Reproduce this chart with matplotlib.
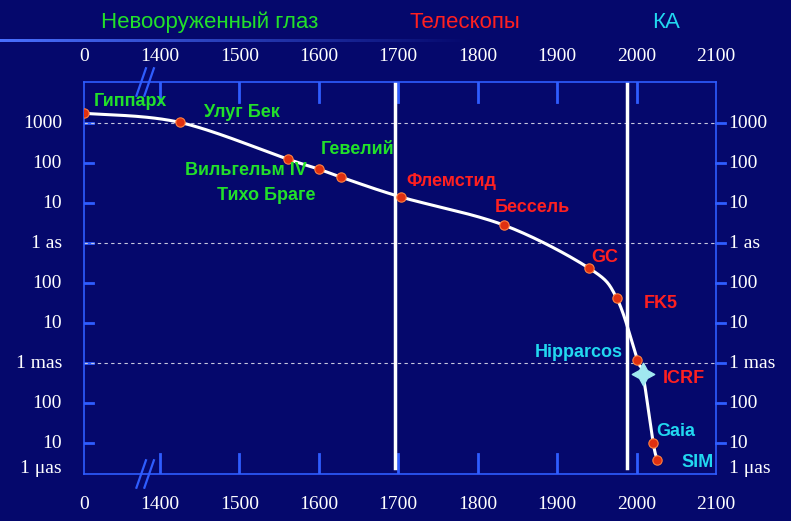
import numpy as np
import matplotlib
matplotlib.use("Agg")
import matplotlib.pyplot as plt
from matplotlib.colors import LinearSegmentedColormap

# data
names = ["Гиппарх", "Улуг Бек", "Вильгельм IV", "Тихо Браге", "Гевелий", "Флемстид",
         "Бессель", "GC", "FK5", "Hipparcos", "ICRF", "Gaia", "SIM"]
years = [0, 1425, 1561, 1600, 1628, 1704, 1833, 1940, 1975, 2001, 2008, 2021, 2026]
log_uas = [9.25, 9.02, 8.1, 7.85, 7.65, 7.15, 6.45, 5.375, 4.625, 3.08, 2.72, 1.0, 0.575]
xtick_years = [0, 1400, 1500, 1600, 1700, 1800, 1900, 2000, 2100]
ytick_vals = [9, 8, 7, 6, 5, 4, 3, 2, 1, 0.37]
ytick_labels = ["1000", "100", "10", "1 as", "100", "10", "1 mas", "100", "10", "1 μas"]
era_lines = [1696, 1988]

GAP = 76 / 79.5
def xpos(y):
    y = np.asarray(y, dtype=float)
    return np.where(y < 1400, y / 1400 * GAP, GAP + (y - 1400) / 100)

BG = "#05086c"
BLUE = "#2f5dff"
GREEN = "#22e02a"
RED = "#ff2020"
CYAN = "#22d8f0"
W = 791; H = 521
fig = plt.figure(figsize=(7.91, 5.21), dpi=100, facecolor=BG)
ax = fig.add_axes([84 / W, (H - 474) / H, (716 - 84) / W, (474 - 82) / H], facecolor=BG)
x0, x1 = float(xpos(0)), float(xpos(2100))
ax.set_xlim(x0, x1)
ax.set_ylim(0.225, 10.03)
for s in ax.spines.values():
    s.set_color(BLUE); s.set_linewidth(1.2)
ax.set_xticks([]); ax.set_yticks([])

tf = dict(color="white", fontsize=14, family="Liberation Serif")
tr_top = ax.get_xaxis_transform()
for yv in xtick_years[1:-1]:
    p = float(xpos(yv))
    ax.plot([p, p], [0.95, 1.0], transform=tr_top, color=BLUE, lw=2)
    ax.plot([p, p], [0.0, 0.05], transform=tr_top, color=BLUE, lw=2)
for yv in xtick_years:
    p = float(xpos(yv))
    ax.text(p, 1.065, str(yv), transform=tr_top, ha="center", va="center", **tf)
    ax.text(p, -0.078, str(yv), transform=tr_top, ha="center", va="center", **tf)
tr_y = ax.get_yaxis_transform()
for v, lab in zip(ytick_vals, ytick_labels):
    if v >= 1:
        ax.plot([0, 0.015], [v, v], transform=tr_y, color=BLUE, lw=2)
        ax.plot([1, 1.015], [v, v], transform=tr_y, color=BLUE, lw=2, clip_on=False)
    ax.text(-0.035, v, lab, transform=tr_y, ha="right", va="center", **tf)
    ax.text(1.02, v, lab, transform=tr_y, ha="left", va="center", **tf)
for v in [9, 6, 3]:
    ax.axhline(v, color="#c8c8e0", lw=0.8, ls=(0, (3, 3)))

# break marks
for yy in [1.0, 0.0]:
    for dx in [0, 0.1]:
        ax.plot([0.66 + dx, 0.78 + dx], [yy - 0.035, yy + 0.035], transform=tr_top,
                color=BLUE, lw=1.6, clip_on=False)

# era lines
for e in era_lines:
    p = float(xpos(e))
    ax.plot([p, p], [0.015, 1.0], transform=tr_top, color="white", lw=2.5)

# smooth curve (Catmull-Rom through points)
px = xpos(years); py = np.array(log_uas)
pts = np.column_stack([px, py])
pts = np.vstack([pts[0] - (pts[1] - pts[0]) * 0.3, pts, pts[-1] + (pts[-1] - pts[-2])])
cx, cy = [], []
for i in range(1, len(pts) - 2):
    p0, p1, p2, p3 = pts[i - 1], pts[i], pts[i + 1], pts[i + 2]
    t = np.linspace(0, 1, 30)[:, None]
    c = 0.5 * ((2 * p1) + (-p0 + p2) * t + (2 * p0 - 5 * p1 + 4 * p2 - p3) * t ** 2
               + (-p0 + 3 * p1 - 3 * p2 + p3) * t ** 3)
    cx.extend(c[:, 0]); cy.extend(c[:, 1])
ax.plot(cx, cy, color="white", lw=2.2, zorder=3)
mask = [n != "ICRF" for n in names]
ax.scatter(px[mask], py[mask], s=45, color="#e03010", edgecolor="#ff8040", lw=0.8, zorder=4)
i = names.index("ICRF")
ax.scatter([px[i]], [py[i]], marker=(4, 1, 0), s=260, color="#a0e8f0", zorder=5)

# labels
sty = dict(family="Liberation Sans", fontweight="bold", fontsize=13)
lab_pos = {
    "Гиппарх": (0.015, 9.55, GREEN, "left"),
    "Улуг Бек": (0.19, 9.27, GREEN, "left"),
    "Вильгельм IV": (0.16, 7.82, GREEN, "left"),
    "Тихо Браге": (0.21, 7.2, GREEN, "left"),
    "Гевелий": (0.375, 8.35, GREEN, "left"),
    "Флемстид": (0.51, 7.55, RED, "left"),
    "Бессель": (0.65, 6.9, RED, "left"),
    "GC": (0.802, 5.65, RED, "left"),
    "FK5": (0.885, 4.48, RED, "left"),
    "Hipparcos": (0.852, 3.27, CYAN, "right"),
    "ICRF": (0.915, 2.62, RED, "left"),
    "Gaia": (0.905, 1.3, CYAN, "left"),
    "SIM": (0.945, 0.52, CYAN, "left"),
}
for n in names:
    fx, fy, col, ha = lab_pos[n]
    ax.text(fx, fy, n, transform=tr_y, color=col, ha=ha, va="center", zorder=6, **sty)

# era titles
for txt, xx, col in [("Невооруженный глаз", 210, GREEN), ("Телескопы", 465, RED), ("КА", 666, CYAN)]:
    fig.text(xx / W, 1 - 22 / H, txt, color=col, fontsize=16,
             family="Liberation Sans", ha="center", va="center")
# gradient rule
grad = np.linspace(1, 0, 256)[None, :]
gax = fig.add_axes([0, 1 - 42 / H, 470 / W, 3 / H])
cm = LinearSegmentedColormap.from_list("g", [BG, "#4a70ff"])
gax.imshow(grad, aspect="auto", cmap=cm)
gax.axis("off")

fig.savefig("out.png", dpi=100, facecolor=BG)
